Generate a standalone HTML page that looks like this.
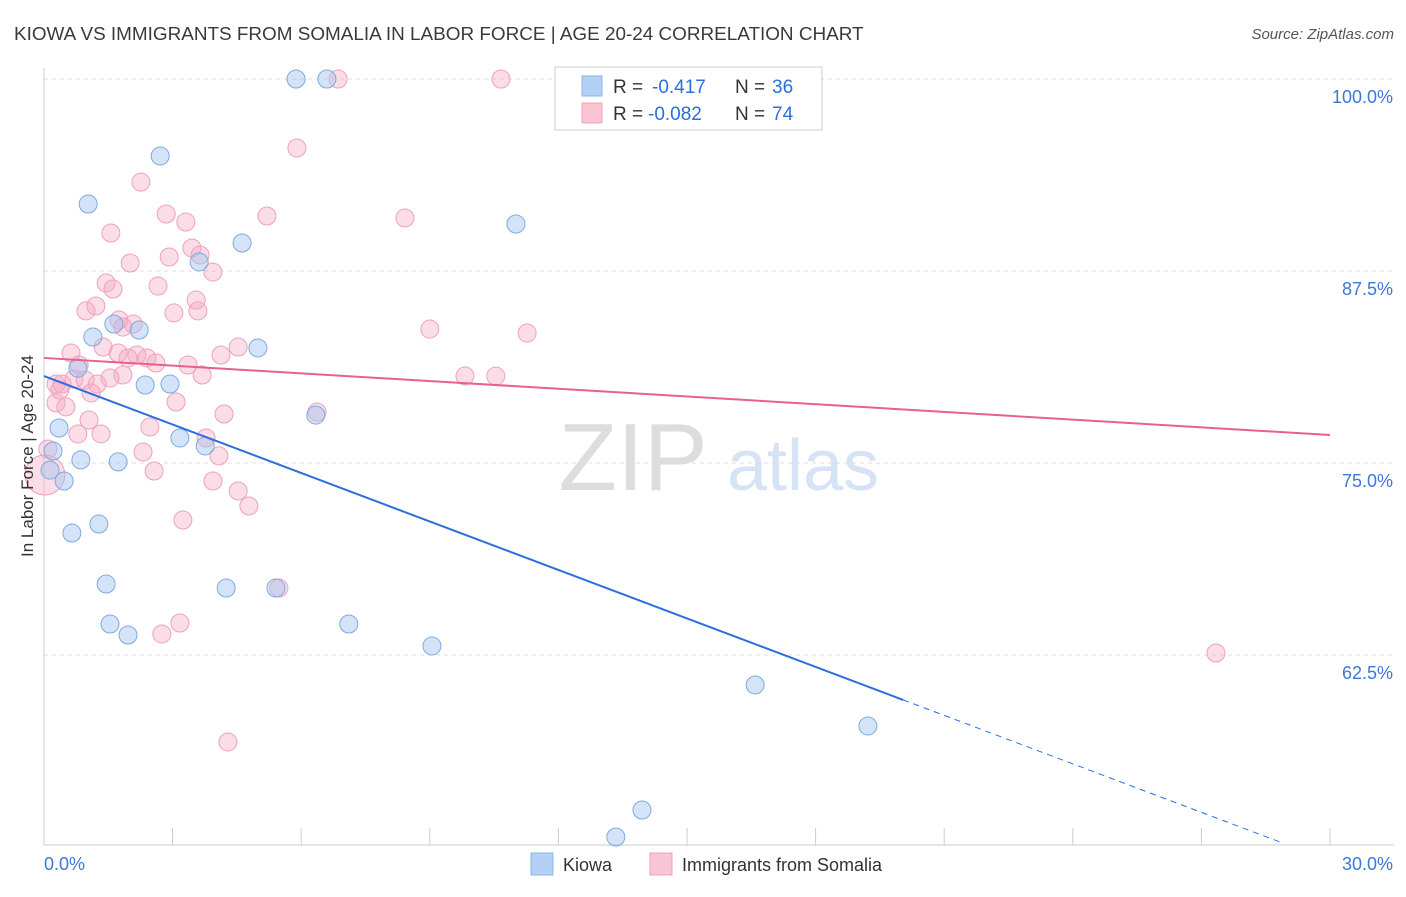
<!DOCTYPE html>
<html><head><meta charset="utf-8"><style>
body{margin:0;background:#fff;font-family:"Liberation Sans",sans-serif;}
svg text{font-family:"Liberation Sans",sans-serif;}
</style></head><body>
<svg id="chart" width="1406" height="892" xmlns="http://www.w3.org/2000/svg">
<text x="14" y="40" font-size="18.9" fill="#3a3a3a">KIOWA VS IMMIGRANTS FROM SOMALIA IN LABOR FORCE | AGE 20-24 CORRELATION CHART</text>
<text x="1394" y="39" font-size="15" fill="#555" text-anchor="end" font-style="italic">Source: ZipAtlas.com</text>
<g>
<text x="633" y="490" font-size="96" fill="#ddd" text-anchor="middle" font-family="Liberation Serif, serif">ZIP</text>
<text x="803" y="490" font-size="72" fill="#d6e3f5" text-anchor="middle">atlas</text>
</g>
<g id="grid"></g>
<g id="axes"></g>
<g id="pts"></g>
<g id="lines"></g>
<text transform="translate(33,456) rotate(-90)" font-size="17" fill="#333" text-anchor="middle">In Labor Force | Age 20-24</text>
<g>
<rect x="555" y="67" width="267" height="63" fill="#fff" stroke="#ccc"/>
<rect x="582" y="76" width="20" height="20" fill="#b5d0f5" stroke="#8ab4e8"/>
<rect x="582" y="103" width="20" height="20" fill="#f9c5d5" stroke="#f0a0bd"/>
<text x="613" y="93" font-size="19" fill="#333">R =</text>
<text x="652" y="93" font-size="19" fill="#2a6fdb">-0.417</text>
<text x="735" y="93" font-size="19" fill="#333">N =</text>
<text x="772" y="93" font-size="19" fill="#2a6fdb">36</text>
<text x="613" y="120" font-size="19" fill="#333">R =</text>
<text x="648" y="120" font-size="19" fill="#2a6fdb">-0.082</text>
<text x="735" y="120" font-size="19" fill="#333">N =</text>
<text x="772" y="120" font-size="19" fill="#2a6fdb">74</text>
</g>
<g>
<rect x="531" y="853" width="22" height="22" fill="#b5d0f5" stroke="#8ab4e8"/>
<text x="563" y="871" font-size="18" fill="#333">Kiowa</text>
<rect x="650" y="853" width="22" height="22" fill="#f9c5d5" stroke="#f0a0bd"/>
<text x="682" y="871" font-size="18" fill="#333">Immigrants from Somalia</text>
</g>
</svg>
<script>
const yTicks=[100,87.5,75,62.5];
const yTickLabels=["100.0%","87.5%","75.0%","62.5%"];
const xTickLabels=["0.0%","30.0%"];
const kiowaX=[5.88,6.60,2.71,1.03,11.01,4.62,3.62,1.14,2.22,1.63,4.99,0.79,2.36,2.94,6.34,0.35,3.17,3.76,0.21,0.86,1.73,0.14,0.47,1.28,0.65,1.45,4.25,5.41,1.54,1.96,7.11,9.05,16.59,19.22,13.95,13.34];
const kiowaY=[100,100,94.99,91.86,90.56,89.32,88.09,83.2,83.66,84.05,82.49,81.18,80.08,80.14,78.12,77.28,76.63,76.11,75.78,75.2,75.07,74.54,73.83,71.03,70.44,67.12,66.86,66.86,64.52,63.8,64.52,63.09,60.55,57.88,52.41,50.65];
const somX=[6.86,10.66,5.90,2.26,2.85,5.20,8.42,3.31,1.56,3.45,2.92,3.64,2.01,3.94,1.45,1.61,2.66,1.21,3.55,0.98,3.59,3.03,1.75,2.08,1.84,9.0,11.27,4.53,1.38,0.63,4.13,1.73,2.17,2.40,2.61,1.96,3.36,0.82,9.82,10.54,1.84,3.69,0.70,0.28,1.24,0.42,0.96,1.10,3.08,0.28,0.51,6.37,4.20,1.05,2.47,0.79,1.33,3.78,0.09,2.31,4.08,2.57,3.94,4.53,4.78,3.24,5.48,3.17,2.75,27.34,4.29,0.02,0.37,1.54];
const somY=[100,100,95.51,93.29,91.21,91.08,90.95,90.69,89.97,89.0,88.41,88.54,88.02,87.43,86.72,86.33,86.52,85.22,85.61,84.9,84.9,84.77,84.31,84.05,83.85,83.72,83.46,82.55,82.55,82.16,82.03,82.16,82.03,81.84,81.51,81.84,81.38,81.38,80.66,80.66,80.73,80.73,80.47,80.14,80.14,80.14,80.4,79.56,78.97,78.91,78.65,78.32,78.19,77.8,77.34,76.89,76.89,76.63,75.91,75.72,75.46,74.48,73.83,73.18,72.2,71.29,66.86,64.58,63.87,62.63,56.84,74.22,79.75,80.53];
const kiowaTrend=[80.66,-1.052];
const somTrend=[81.84,-0.1673];
const NS="http://www.w3.org/2000/svg";
const X=v=>44+v/30*1286;
const Y=v=>79+(100-v)*15.36;
function mk(t,a,p){const e=document.createElementNS(NS,t);for(const k in a)e.setAttribute(k,a[k]);p.appendChild(e);return e;}
const grid=document.getElementById('grid'),axes=document.getElementById('axes'),pts=document.getElementById('pts'),lines=document.getElementById('lines');
yTicks.forEach((t,i)=>{
 const l=mk('line',{x1:44,x2:1394,y1:Y(t),y2:Y(t),stroke:'#ddd','stroke-dasharray':'4,4'},grid);
 
 
 const tx=mk('text',{x:1393,y:Y(t)+24,'font-size':18,fill:'#3b78d8','text-anchor':'end'},axes);
 tx.textContent=yTickLabels[i];
 
 
});
mk('line',{x1:44,x2:44,y1:68,y2:845,stroke:'#ccc'},axes);
mk('line',{x1:44,x2:1394,y1:845,y2:845,stroke:'#ccc'},axes);
for(let i=0;i<=10;i++){mk('line',{x1:X(i*3),x2:X(i*3),y1:828,y2:845,stroke:'#ccc'},axes);}
const xl0=mk('text',{x:44,y:870,'font-size':18,fill:'#3b78d8'},axes);xl0.textContent=xTickLabels[0];


const xl1=mk('text',{x:1393,y:870,'font-size':18,fill:'#3b78d8','text-anchor':'end'},axes);xl1.textContent=xTickLabels[1];


somX.forEach((x,i)=>{
 const c=mk('circle',{cx:X(x),cy:Y(somY[i]),r:i==71?20:9,fill:'rgba(246,170,196,0.4)',stroke:'#f0a0bd','stroke-width':1},pts);
 
 
});
kiowaX.forEach((x,i)=>{
 const c=mk('circle',{cx:X(x),cy:Y(kiowaY[i]),r:9,fill:'rgba(160,195,240,0.45)',stroke:'#7fa9e0','stroke-width':1},pts);
 
 
});
const kEnd=20.04,kDash=28.9;
const kl=mk('line',{x1:X(0),y1:Y(kiowaTrend[0]),x2:X(kEnd),y2:Y(kiowaTrend[0]+kiowaTrend[1]*kEnd),stroke:'#2a6fdb','stroke-width':2},lines);


const kd=mk('line',{x1:X(kEnd),y1:Y(kiowaTrend[0]+kiowaTrend[1]*kEnd),x2:X(kDash),y2:Y(kiowaTrend[0]+kiowaTrend[1]*kDash),stroke:'#2a6fdb','stroke-width':1,'stroke-dasharray':'6,5'},lines);


const sl=mk('line',{x1:X(0),y1:Y(somTrend[0]),x2:X(30),y2:Y(somTrend[0]+somTrend[1]*30),stroke:'#e8608e','stroke-width':2},lines);


</script>
</body></html>
